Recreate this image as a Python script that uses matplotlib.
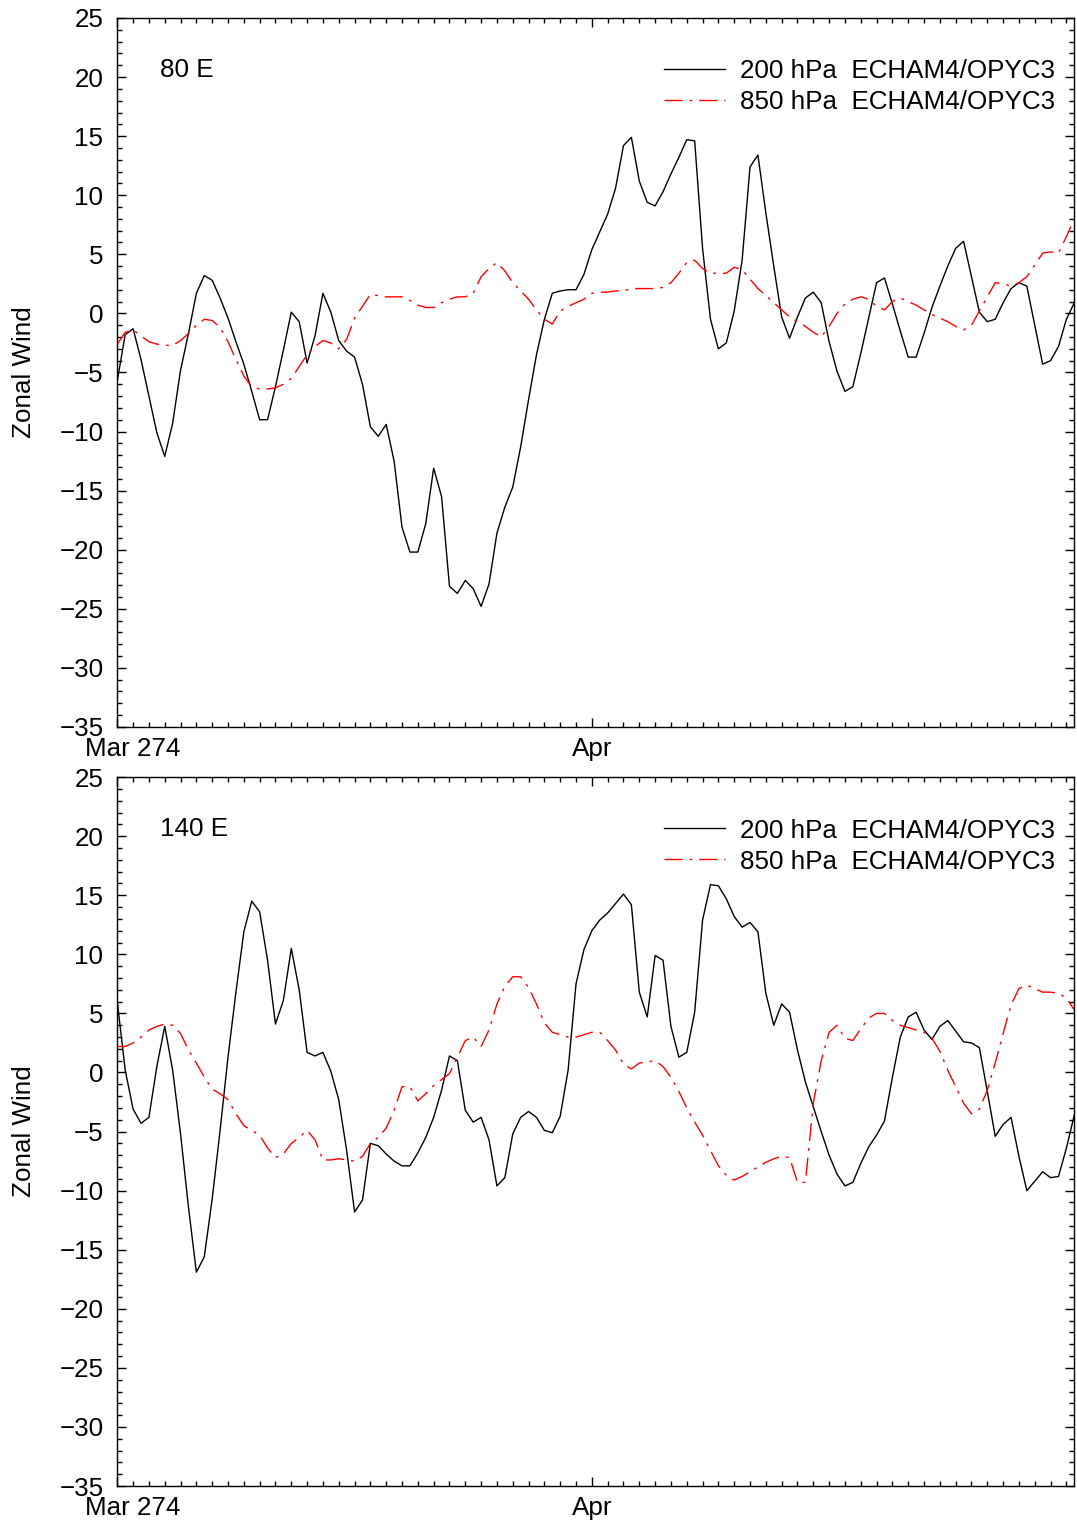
import numpy as np
import matplotlib
matplotlib.use('Agg')
import matplotlib.pyplot as plt
from matplotlib.transforms import ScaledTranslation

plt.rcParams['font.family'] = ['Liberation Sans', 'DejaVu Sans']

# 12-hourly zonal wind, day 0 = 1 Mar
days = np.arange(122) * 0.5

# 80 E
u200_80e = [-5.7, -1.8, -1.3, -3.9, -7.0, -10.1, -12.1, -9.3, -4.8, -1.7, 1.7, 3.2, 2.8, 1.3, -0.4, -2.4,
            -4.3, -6.6, -9.0, -9.0, -6.2, -3.1, 0.1, -0.7, -4.2, -1.9, 1.7, 0.1, -2.3, -3.2, -3.7,
            -6.0, -9.6, -10.4, -9.4, -12.5, -18.1, -20.2, -20.2, -17.8, -13.1, -15.5, -23.1, -23.7, -22.6, -23.3,
            -24.8, -22.9, -18.6, -16.4, -14.7, -11.3, -7.3, -3.5, -0.5, 1.7, 1.9, 2.0, 2.0, 3.3, 5.4, 6.9,
            8.4, 10.6, 14.2, 14.9, 11.2, 9.4, 9.1, 10.3, 11.8, 13.2, 14.7, 14.6, 5.5, -0.5, -3.0, -2.5,
            0.2, 4.5, 12.4, 13.4, 8.5, 4.0, -0.3, -2.1, -0.3, 1.3, 1.8, 0.9, -2.4, -4.9, -6.6, -6.2,
            -3.4, -0.4, 2.6, 3.0, 0.8, -1.5, -3.7, -3.7, -1.7, 0.5, 2.3, 4.0, 5.5, 6.1, 3.1, 0.1,
            -0.7, -0.5, 0.9, 2.1, 2.6, 2.3, -1.0, -4.3, -4.0, -2.8, -0.5, 0.9]
u850_80e = [-2.6, -1.6, -1.4, -1.9, -2.4, -2.6, -2.7, -2.7, -2.3, -1.7, -1.0, -0.5, -0.6, -1.2, -2.4, -3.9,
            -5.3, -6.2, -6.4, -6.4, -6.3, -6.0, -5.5, -4.5, -3.5, -2.8, -2.3, -2.5, -3.0, -2.2, -0.4,
            0.6, 1.6, 1.5, 1.4, 1.4, 1.4, 1.1, 0.7, 0.5, 0.5, 0.9, 1.2, 1.4, 1.4, 1.7,
            3.1, 3.8, 4.3, 3.6, 2.6, 1.9, 1.2, 0.3, -0.5, -0.9, 0.2, 0.6, 0.9, 1.2, 1.7, 1.8,
            1.8, 1.9, 1.9, 2.1, 2.1, 2.1, 2.1, 2.2, 2.6, 3.4, 4.3, 4.5, 3.8, 3.4, 3.4, 3.4,
            3.9, 3.7, 2.9, 2.1, 1.5, 0.9, 0.3, -0.3, -0.7, -1.1, -1.6, -2.0, -1.1, 0.0, 0.8, 1.2,
            1.4, 1.2, 0.6, 0.3, 1.0, 1.3, 1.0, 0.7, 0.3, -0.1, -0.4, -0.7, -1.1, -1.4, -1.0, 0.2,
            1.4, 2.6, 2.5, 2.3, 2.6, 3.1, 4.1, 5.1, 5.2, 5.1, 6.5, 8.0]

# 140 E
u200_140e = [6.0, 0.2, -3.1, -4.3, -3.8, 0.5, 3.9, 0.2, -5.2, -11.4, -16.9, -15.6, -10.7, -4.9, 1.3, 6.8,
             11.9, 14.5, 13.6, 9.5, 4.1, 6.1, 10.5, 7.0, 1.7, 1.4, 1.7, 0.1, -2.3, -6.6, -11.8,
             -10.8, -6.0, -6.2, -6.9, -7.5, -7.9, -7.9, -6.8, -5.5, -3.8, -1.5, 1.4, 1.0, -3.2, -4.2,
             -3.8, -5.7, -9.6, -8.9, -5.2, -3.8, -3.3, -3.8, -4.9, -5.1, -3.7, 0.2, 7.5, 10.4, 12.0, 12.9,
             13.5, 14.3, 15.1, 14.2, 6.8, 4.7, 9.9, 9.5, 3.9, 1.3, 1.7, 5.1, 12.9, 15.9, 15.8, 14.7,
             13.2, 12.3, 12.7, 11.9, 6.7, 4.0, 5.8, 5.1, 1.9, -0.8, -2.9, -5.0, -7.0, -8.6, -9.6, -9.3,
             -7.7, -6.3, -5.3, -4.1, -0.4, 3.0, 4.7, 5.1, 3.6, 2.8, 3.9, 4.4, 3.5, 2.6, 2.5, 2.1,
             -1.6, -5.4, -4.4, -3.8, -7.1, -10.0, -9.2, -8.4, -8.9, -8.8, -6.4, -3.6]
u850_140e = [2.2, 2.2, 2.5, 3.0, 3.6, 3.9, 4.1, 4.0, 3.3, 1.9, 0.8, -0.4, -1.4, -1.8, -2.3, -3.5,
             -4.5, -4.9, -5.3, -6.4, -7.2, -6.9, -6.0, -5.5, -4.9, -5.7, -7.4, -7.4, -7.3, -7.4, -7.5,
             -7.1, -6.0, -5.5, -4.7, -3.2, -1.2, -1.2, -2.4, -1.8, -1.1, -0.6, -0.1, 1.3, 2.7, 3.0,
             2.2, 3.6, 5.8, 7.3, 8.1, 8.1, 7.2, 5.8, 4.2, 3.4, 3.2, 3.0, 3.0, 3.2, 3.4, 3.4,
             2.7, 1.9, 0.7, 0.3, 0.8, 0.9, 1.0, 0.5, -0.4, -1.6, -3.0, -4.2, -5.3, -6.6, -7.9, -8.7,
             -9.1, -8.8, -8.4, -8.0, -7.6, -7.3, -7.1, -7.2, -9.3, -9.3, -2.6, 1.0, 3.4, 4.0, 2.9, 2.7,
             3.7, 4.6, 5.0, 5.0, 4.4, 4.0, 3.8, 3.6, 3.4, 2.9, 1.8, 0.2, -1.2, -2.6, -3.5, -3.1,
             -1.5, 0.8, 3.3, 5.7, 7.1, 7.4, 7.1, 6.8, 6.8, 6.7, 6.3, 5.3]

panels = ['80 E', '140 E']
series = [(u200_80e, u850_80e), (u200_140e, u850_140e)]
labels_200 = '200 hPa  ECHAM4/OPYC3'
labels_850 = '850 hPa  ECHAM4/OPYC3'
xtick_pos = [0, 30]
xtick_labels = ['Mar 274', 'Apr']

fs = 18.7
fig = plt.figure(figsize=(10.77, 15.24), dpi=100)
rects = [[0.1089, 0.5230, 0.8886, 0.4652],
         [0.1089, 0.0249, 0.8886, 0.4652]]

for rect, name, (u200, u850) in zip(rects, panels, series):
    ax = fig.add_axes(rect)
    ax.plot(days, u200, color='black', lw=1.0, label=labels_200)
    ax.plot(days, u850, color='red', lw=1.0, dashes=(13, 5, 2, 5), label=labels_850)
    ax.set_xlim(0, 60.5)
    ax.set_ylim(-35, 25)
    ax.set_yticks(np.arange(-35, 26, 5))
    ax.set_yticks(np.arange(-35, 26, 1), minor=True)
    ax.set_xticks(xtick_pos)
    ax.set_xticklabels(xtick_labels)
    ax.set_xticks(np.arange(0, 61, 1), minor=True)
    ax.tick_params(which='both', direction='in', top=True, right=True, width=1.0, labelsize=fs)
    ax.tick_params(which='major', length=6.5)
    ax.tick_params(which='minor', length=3.6)
    ax.tick_params(axis='y', pad=10)
    ax.tick_params(axis='x', pad=7)
    for sp in ax.spines.values():
        sp.set_linewidth(1.0)
    # first date label starts left of the axis instead of centring on it
    first = ax.get_xticklabels()[0]
    first.set_horizontalalignment('left')
    first.set_transform(first.get_transform() + ScaledTranslation(-0.32, 0, fig.dpi_scale_trans))
    ax.text(0.0446, 0.927, name, transform=ax.transAxes, fontsize=fs, va='center', ha='left')
    ax.legend(loc='upper right', bbox_to_anchor=(0.980, 0.9415), frameon=False, fontsize=fs,
              handlelength=2.35, handletextpad=0.58, labelspacing=0.27, borderaxespad=0, borderpad=0)
    fig.text(24 / 1077, rect[1] + rect[3] / 2, 'Zonal Wind', rotation=90, fontsize=fs,
             ha='center', va='center')

fig.savefig('out.png', dpi=100)
